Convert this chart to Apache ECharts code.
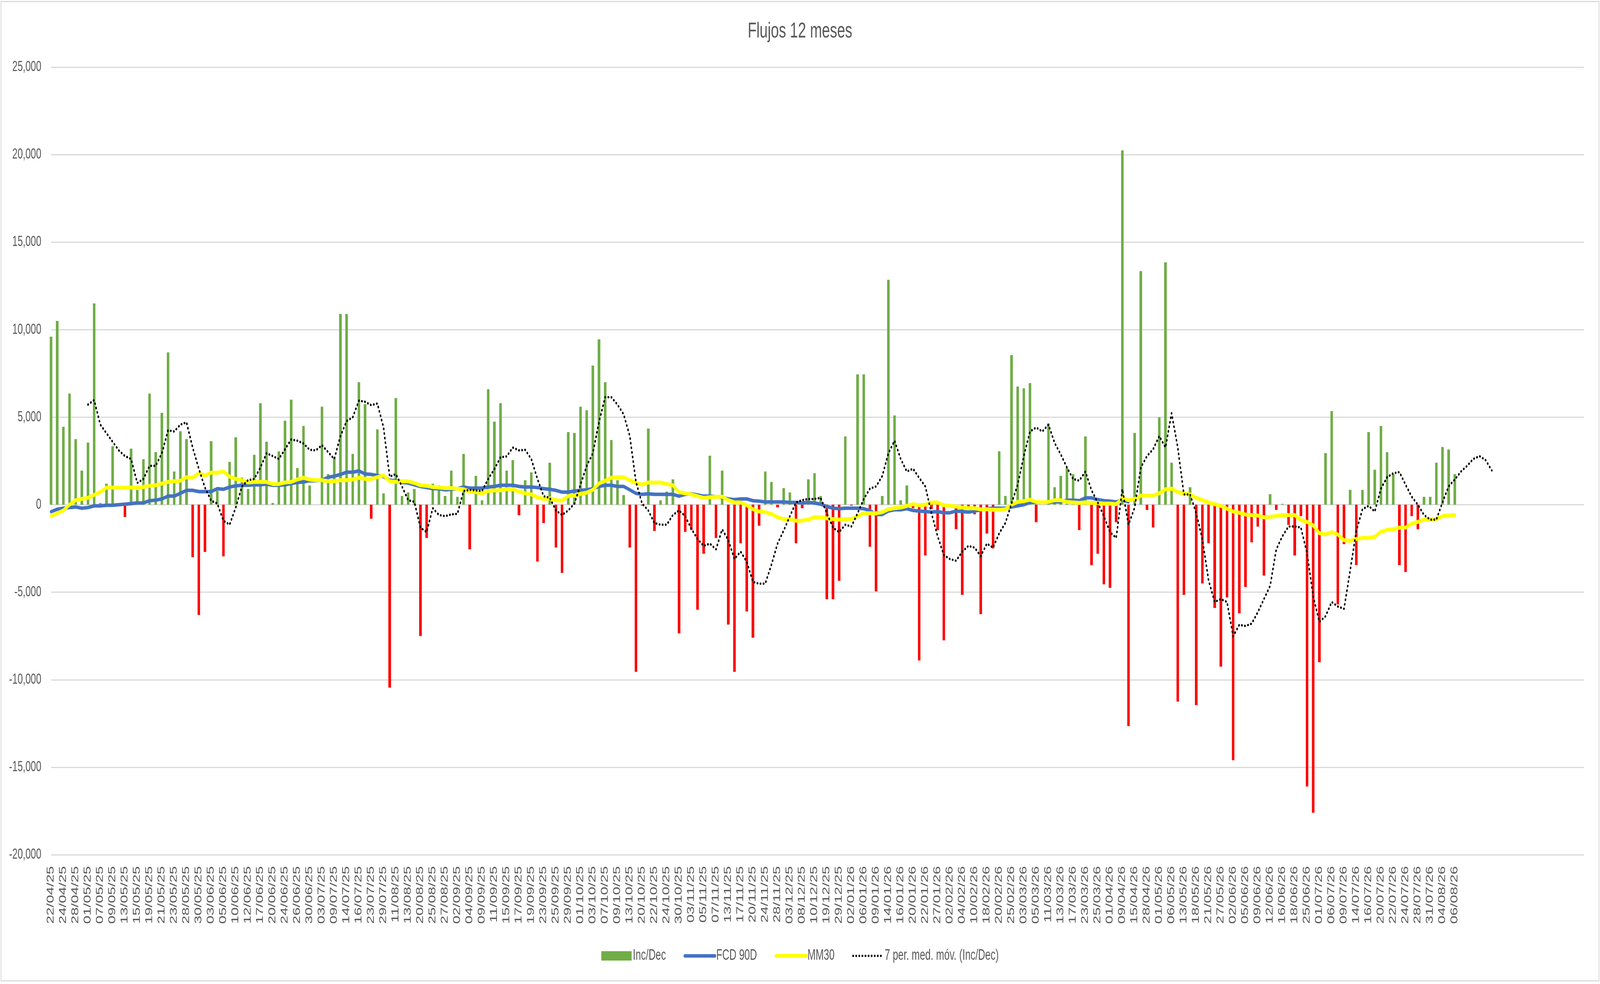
<!DOCTYPE html>
<html><head><meta charset="utf-8">
<script src="https://cdn.jsdelivr.net/npm/echarts@6/dist/echarts.min.js"></script>
<style>html,body{margin:0;padding:0;background:#fff;overflow:hidden}#c{position:absolute;left:0;top:0;width:6237px;height:2520px;transform-origin:0 0}</style>
</head><body><div id="c"></div>
<script>
const categories = [
"22/04/25","23/04/25","24/04/25","25/04/25","28/04/25","30/04/25","01/05/25","06/05/25","07/05/25","08/05/25",
"09/05/25","12/05/25","13/05/25","14/05/25","15/05/25","16/05/25","19/05/25","20/05/25","21/05/25","22/05/25",
"23/05/25","27/05/25","28/05/25","29/05/25","30/05/25","02/06/25","03/06/25","04/06/25","05/06/25","09/06/25",
"10/06/25","11/06/25","12/06/25","16/06/25","17/06/25","18/06/25","20/06/25","23/06/25","24/06/25","25/06/25",
"26/06/25","27/06/25","30/06/25","01/07/25","03/07/25","08/07/25","09/07/25","11/07/25","14/07/25","15/07/25",
"16/07/25","22/07/25","23/07/25","28/07/25","29/07/25","08/08/25","11/08/25","12/08/25","13/08/25","19/08/25",
"20/08/25","22/08/25","25/08/25","26/08/25","27/08/25","01/09/25","02/09/25","03/09/25","04/09/25","08/09/25",
"09/09/25","10/09/25","11/09/25","12/09/25","15/09/25","16/09/25","17/09/25","18/09/25","19/09/25","22/09/25",
"23/09/25","24/09/25","25/09/25","26/09/25","29/09/25","30/09/25","01/10/25","02/10/25","03/10/25","06/10/25",
"07/10/25","08/10/25","09/10/25","10/10/25","13/10/25","17/10/25","20/10/25","21/10/25","22/10/25","23/10/25",
"24/10/25","29/10/25","30/10/25","31/10/25","03/11/25","04/11/25","05/11/25","06/11/25","07/11/25","12/11/25",
"13/11/25","14/11/25","17/11/25","18/11/25","20/11/25","21/11/25","24/11/25","27/11/25","28/11/25","02/12/25",
"03/12/25","05/12/25","08/12/25","09/12/25","10/12/25","18/12/25","19/12/25","23/12/25","29/12/25","30/12/25",
"02/01/26","05/01/26","06/01/26","08/01/26","09/01/26","13/01/26","14/01/26","15/01/26","16/01/26","19/01/26",
"20/01/26","21/01/26","22/01/26","26/01/26","27/01/26","30/01/26","02/02/26","03/02/26","04/02/26","09/02/26",
"10/02/26","17/02/26","18/02/26","19/02/26","20/02/26","24/02/26","25/02/26","02/03/26","03/03/26","04/03/26",
"05/03/26","10/03/26","11/03/26","12/03/26","13/03/26","16/03/26","17/03/26","20/03/26","23/03/26","24/03/26",
"25/03/26","31/03/26","01/04/26","08/04/26","09/04/26","14/04/26","15/04/26","27/04/26","28/04/26","30/04/26",
"01/05/26","05/05/26","06/05/26","12/05/26","13/05/26","15/05/26","18/05/26","20/05/26","21/05/26","26/05/26",
"27/05/26","01/06/26","02/06/26","04/06/26","05/06/26","08/06/26","09/06/26","11/06/26","12/06/26","15/06/26",
"16/06/26","17/06/26","18/06/26","24/06/26","25/06/26","30/06/26","01/07/26","03/07/26","06/07/26","08/07/26",
"09/07/26","13/07/26","14/07/26","15/07/26","16/07/26","17/07/26","20/07/26","21/07/26","22/07/26","23/07/26",
"24/07/26","27/07/26","28/07/26","30/07/26","31/07/26","03/08/26","04/08/26","05/08/26","06/08/26"
];
const emptyTailCategories = ["","","","","","","","","","","","","","","","","","","","",""];

const incDec = [
9600,10500,4450,6350,3750,1950,3550,11500,100,1200,3350,0,-700,3200,850,2600,6350,3000,5250,8700,1900,4200,3750,-3000,-6300,
-2700,3630,800,-2950,2450,3850,1550,900,2850,5800,3600,100,3050,4800,6000,2100,4500,1100,0,5600,1750,2700,10900,10900,2900,
7000,5750,-800,4300,650,-10450,6100,500,700,900,-7500,-1900,1200,1100,500,1950,450,2900,-2550,1650,250,6600,4750,5800,1950,
2550,-600,1400,1850,-3250,-1050,2400,-2450,-3900,4150,4100,5600,5400,7950,9450,7000,3700,1400,550,-2450,-9550,-50,4350,-1500,250,
750,1450,-7350,-1550,-1450,-6000,-2800,2800,-1900,1950,-6850,-9550,-2200,-6100,-7600,-1200,1900,1300,-150,950,700,-2200,-200,1450,1800,
500,-5400,-5400,-4350,3900,-50,7450,7450,-2400,-4950,500,12850,5100,250,1100,-200,-8900,-2900,-250,-1450,-7750,-150,-1400,-5150,-100,
-550,-6250,-1650,-2500,3050,500,8550,6750,6650,6950,-1000,0,4650,1000,1650,2100,1750,-1450,3900,-3450,-2800,-4550,-4750,-1000,20250,
-12650,4100,13350,-300,-1300,5000,13850,2400,-11250,-5150,1000,-11450,-4500,-2200,-5900,-9250,-5300,-14600,-6200,-4700,-2150,-1250,-4050,600,-300,
50,-1150,-2900,-650,-16100,-17600,-9000,2950,5350,-5700,-2250,850,-3450,850,4150,2000,4500,3000,1750,-3450,-3850,-650,-1400,450,450,
2400,3300,3150,1750
];

const fcd90 = [
-400,-260,-200,-160,-130,-200,-160,-65,-65,-30,-30,0,30,65,100,100,230,260,330,490,490,650,820,820,750,
750,750,915,880,1010,1080,1110,1110,1140,1140,1180,1110,1110,1140,1210,1270,1300,1370,1370,1400,1570,1630,1730,1860,1860,
1930,1760,1730,1670,1600,1400,1370,1270,1240,1140,1045,980,915,915,850,880,915,1010,950,950,950,1010,1045,1110,1110,
1110,1045,1010,1010,980,915,880,820,720,720,780,820,850,915,1045,1110,1110,1045,1045,850,650,590,620,590,590,
590,590,490,590,620,560,490,490,460,425,330,290,330,330,230,200,160,160,160,160,130,130,100,130,100,
30,-100,-200,-230,-200,-200,-200,-230,-330,-560,-560,-360,-290,-290,-230,-330,-360,-390,-425,-390,-460,-460,-360,-390,-425,
-360,-290,-230,-200,-200,-200,-130,-65,0,130,130,130,130,160,160,260,260,230,390,390,290,230,200,160,280,
160
];

const mm30 = [
-650,-490,-330,0,260,330,390,560,720,980,980,980,980,980,980,1010,1080,1110,1210,1300,1340,1370,1570,1540,1800,
1670,1830,1830,1900,1600,1470,1400,1270,1300,1300,1300,1180,1180,1270,1300,1440,1540,1440,1400,1400,1340,1340,1400,1400,1440,
1540,1470,1470,1570,1670,1340,1300,1340,1340,1240,1110,1080,1010,980,950,950,915,880,750,720,650,780,820,820,880,
880,750,650,590,425,330,360,260,230,490,520,620,690,850,1210,1370,1540,1570,1570,1400,1240,1140,1270,1270,1270,
1180,1110,720,650,590,490,390,425,460,460,260,130,130,-30,-260,-390,-425,-520,-720,-820,-850,-915,-915,-850,-720,
-720,-780,-820,-850,-820,-820,-650,-490,-490,-490,-425,-260,-200,-160,-65,30,-30,0,130,130,-30,-65,-100,-160,-200,
-200,-260,-260,-290,-290,-260,0,160,200,290,160,130,160,260,260,160,130,100,130,100,100,65,65,30,390,
260,330,520,520,520,650,880,915,720,650,590,390,260,130,30,-65,-230,-390,-460,-560,-590,-620,-720,-690,-650,
-590,-590,-590,-880,-980,-1180,-1630,-1700,-1570,-1700,-2030,-2060,-1960,-1900,-1900,-1830,-1540,-1440,-1400,-1310,-1310,-1080,-980,-850,-850,
-820,-650,-620,-590
];

const ma7 = [
null,null,null,null,null,null,
5720,5980,4575,4085,3595,3105,2778,2614,1242,1470,2222,2222,2941,4248,4183,4575,4706,3268,2050,
980,230,65,-915,-1140,-160,1045,1405,1470,2124,2941,2778,2614,3170,3725,3660,3497,3137,3105,3399,3006,2614,3921,4771,5000,
5948,5882,5686,5784,4412,1600,1750,1045,261,163,-1307,-1569,-196,-588,-654,-556,-523,784,850,817,784,1470,2026,2712,2760,
3268,3105,3137,2614,1470,490,392,-327,-588,-327,65,1144,2222,2941,4739,6144,6144,5719,5163,3922,1307,65,-327,-1046,-1144,
-1144,-588,-327,-654,-1373,-1961,-2353,-2222,-2549,-1405,-2026,-3105,-2680,-3268,-4412,-4510,-4510,-3431,-2222,-1471,-654,131,261,327,327,
392,-490,-1307,-1569,-1144,-1242,-490,327,915,1046,1634,2941,3660,2614,1895,2059,1536,1046,-490,-1797,-2876,-3105,-3203,-2680,-2353,
-2451,-2941,-2222,-2451,-1634,-1046,65,1144,2778,4183,4412,4183,4575,3529,2876,2124,1470,1372,1895,817,131,-654,-1569,-1895,900,
-1144,-163,2124,2778,3170,3922,3268,5229,3268,588,588,-490,-1961,-4314,-5556,-5392,-5556,-7516,-6863,-6928,-6797,-6144,-5392,-4641,-2550,
-1797,-1242,-1242,-1307,-2778,-5229,-6699,-6373,-5556,-5817,-5948,-3758,-1503,-261,-65,-392,915,1569,1797,1863,1144,458,0,-588,-850,
-850,131,1046,1438,1895,2222,2614,2778,2549,1961
];

// The chart is laid out on a 6237 x 2520 page; if the real viewport differs, the whole page is fitted to it.
const W0 = 6237, H0 = 2520;
const el = document.getElementById('c');
const sx = (window.innerWidth || W0) / W0;
const sy = (window.innerHeight || H0) / H0;
if (Math.abs(sx - 1) > 0.002 || Math.abs(sy - 1) > 0.002) {
  el.style.transform = 'scale(' + sx + ',' + sy + ')';
}

const FONT = '"Liberation Sans", Arial, sans-serif';
const chart = echarts.init(el, null, {renderer: 'canvas', width: W0, height: H0});
chart.setOption({
  animation: false,
  backgroundColor: '#ffffff',
  textStyle: {fontFamily: FONT},
  title: {
    text: 'Flujos 12 meses', left: 'center', top: 48,
    textStyle: {fontSize: 56, fontWeight: 'normal', color: '#595959', fontFamily: FONT}
  },
  legend: {
    top: 2424, left: 'center', itemGap: 69, itemWidth: 118, itemHeight: 24,
    textStyle: {fontSize: 38, color: '#595959', fontFamily: FONT},
    data: [
      {name: 'Inc/Dec', icon: 'rect'},
      {name: 'FCD 90D', itemStyle: {opacity: 0}, lineStyle: {color: '#4472C4', width: 9, cap: 'round'}},
      {name: 'MM30', itemStyle: {opacity: 0}, lineStyle: {color: '#FFFF00', width: 10, cap: 'round'}},
      {name: '7 per. med. móv. (Inc/Dec)', itemStyle: {opacity: 0},
        lineStyle: {color: '#000000', width: 6, type: [1, 11], cap: 'round'}}
    ]
  },
  grid: {left: 199, right: 62, top: 172, bottom: 331, containLabel: false},
  xAxis: {
    type: 'category', data: categories.concat(emptyTailCategories), boundaryGap: false,
    axisLine: {show: false}, axisTick: {show: false}, splitLine: {show: false},
    axisLabel: {rotate: 90, interval: 1, fontSize: 38, color: '#595959', margin: 29, fontFamily: FONT}
  },
  yAxis: {
    type: 'value', min: -20000, max: 25000, interval: 5000,
    axisLine: {show: false}, axisTick: {show: false},
    splitLine: {lineStyle: {color: '#D9D9D9', width: 3}},
    axisLabel: {fontSize: 37, color: '#595959', margin: 38, fontFamily: FONT,
      formatter: v => v.toLocaleString('en-US')}
  },
  graphic: [{
    type: 'rect', silent: true, z: -10,
    shape: {x: 4, y: 4, width: 6229, height: 2508},
    style: {fill: null, stroke: '#D9D9D9', lineWidth: 3}
  }],
  series: [
    {
      name: 'Inc/Dec', type: 'bar', barWidth: 10, z: 2,
      itemStyle: {color: '#70AD47'},
      data: incDec.map(v => v < 0 ? {value: v, itemStyle: {color: '#FF0000'}} : v)
    },
    {
      name: 'FCD 90D', type: 'line', data: fcd90, symbol: 'none', z: 3,
      itemStyle: {color: '#4472C4'},
      lineStyle: {color: '#4472C4', width: 9, cap: 'round', join: 'round'}
    },
    {
      name: 'MM30', type: 'line', data: mm30, symbol: 'none', z: 4,
      itemStyle: {color: '#FFFF00'},
      lineStyle: {color: '#FFFF00', width: 10, cap: 'round', join: 'round'}
    },
    {
      name: '7 per. med. móv. (Inc/Dec)', type: 'line', data: ma7, symbol: 'none', z: 5,
      itemStyle: {color: '#000000'},
      lineStyle: {color: '#000000', width: 6, type: [1, 11], cap: 'round', join: 'round'}
    }
  ]
});
</script>
</body></html>
